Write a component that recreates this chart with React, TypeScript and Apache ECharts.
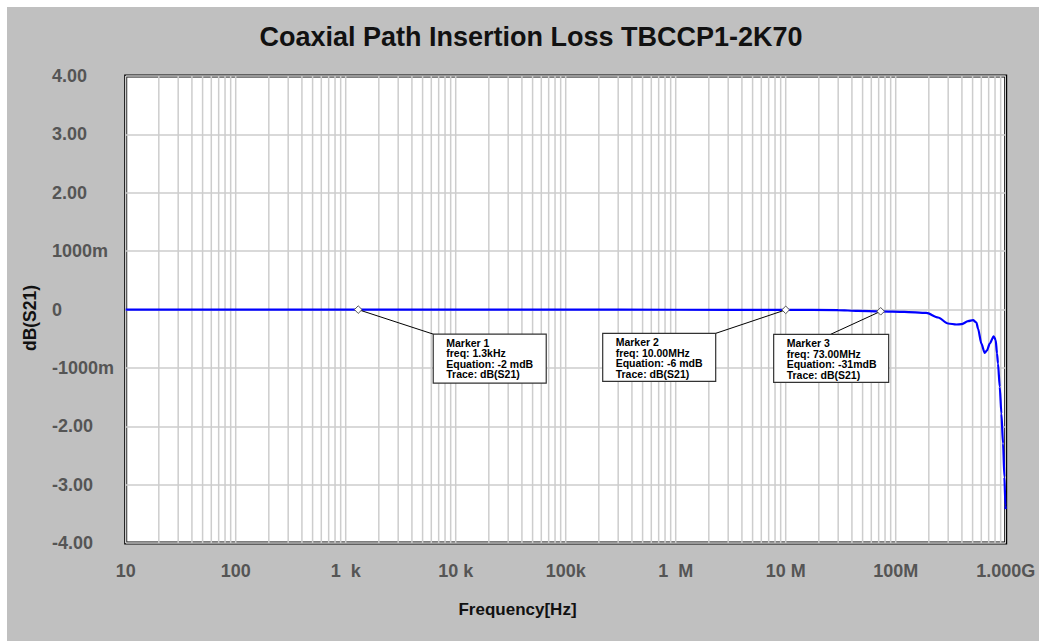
import React, { useEffect, useRef } from 'react';
import * as echarts from 'echarts';

const TITLE = 'Coaxial Path Insertion Loss TBCCP1-2K70';
const X_NAME = 'Frequency[Hz]';
const Y_NAME = 'dB(S21)';

const xTickValues = [10, 100, 1e3, 1e4, 1e5, 1e6, 1e7, 1e8, 1e9];
const xTickLabels = ['10', '100', '1  k', '10 k', '100k', '1  M', '10 M', '100M', '1.000G'];
const yTickValues = [4, 3, 2, 1, 0, -1, -2, -3, -4];
const yTickLabels = ['4.00', '3.00', '2.00', '1000m', '0', '-1000m', '-2.00', '-3.00', '-4.00'];
const gridMultipliers = [1, 2, 3, 4, 5, 6, 7, 8, 9];

const freqHz = [
  10, 1300, 1e5, 1e6, 1e7, 3e7, 4.5e7, 7.3e7, 1.2e8, 1.9e8, 2.43e8, 2.99e8, 3.56e8, 3.96e8,
  4.55e8, 5.05e8, 5.42e8, 5.6e8, 6.01e8, 6.44e8, 6.76e8, 7.16e8, 7.78e8, 8.11e8, 8.34e8,
  8.51e8, 8.83e8, 9.14e8, 9.46e8, 9.73e8, 9.94e8, 1e9,
];
const s21dB = [
  -0.001, -0.002, -0.003, -0.004, -0.006, -0.01, -0.025, -0.031, -0.04, -0.058, -0.137, -0.24,
  -0.257, -0.252, -0.2, -0.183, -0.223, -0.326, -0.583, -0.743, -0.7, -0.583, -0.458, -0.526,
  -0.754, -0.926, -1.327, -1.783, -2.297, -2.87, -3.355, -3.42,
];

const markerNames = ['Marker 1', 'Marker 2', 'Marker 3'];
const markerFreqHz = [1.3e3, 10e6, 73e6];
const markerDB = [-0.002, -0.006, -0.031];
const markerFreqText = ['1.3kHz', '10.00MHz', '73.00MHz'];
const markerEqText = ['-2 mdB', '-6 mdB', '-31mdB'];
const markerTraceText = ['dB(S21)', 'dB(S21)', 'dB(S21)'];

// annotation box layout relative to the marker's pixel position
const boxLayout = [
  { dx: 75, dy: 24.5, w: 113, h: 49, ax: 0 },
  { dx: -183, dy: 23.5, w: 113, h: 48, ax: 113 },
  { dx: -107, dy: 23, w: 115, h: 48, ax: 57 },
];

export default function App() {
  const ref = useRef<HTMLDivElement>(null);

  useEffect(() => {
    document.body.style.margin = '0';
    if (!ref.current) return;
    const chart = echarts.init(ref.current, undefined, { renderer: 'svg' });

    const gridFreqs: number[] = [];
    xTickValues.slice(0, -1).forEach((d) => gridMultipliers.forEach((m) => gridFreqs.push(d * m)));
    gridFreqs.push(xTickValues[xTickValues.length - 1]);

    const labelFont = { fontFamily: 'Arial', fontWeight: 'bold' as const, fontSize: 18, color: '#555' };

    chart.setOption({
      animation: false,
      backgroundColor: '#c0c0c0',
      grid: {
        left: 118.7,
        right: 33.3,
        top: 69,
        bottom: 98,
        show: true,
        backgroundColor: '#ffffff',
        borderColor: '#000',
        borderWidth: 3,
      },
      xAxis: {
        type: 'log',
        logBase: 10,
        min: 10,
        max: 1e9,
        splitNumber: 8,
        axisLine: { show: false },
        axisTick: { show: false },
        splitLine: { show: false },
        axisLabel: {
          ...labelFont,
          margin: 19,
          formatter: (v: number) => {
            const idx = Math.round(Math.log10(v)) - 1;
            return xTickLabels[idx] ?? '';
          },
        },
      },
      yAxis: {
        type: 'value',
        min: -4,
        max: 4,
        interval: 1,
        axisLine: { show: false },
        axisTick: { show: false },
        splitLine: { show: true, lineStyle: { color: '#cdcdcd', width: 1.5 } },
        axisLabel: {
          ...labelFont,
          align: 'left',
          margin: 73.7,
          padding: [5, 0, 0, 0],
          formatter: (v: number) => {
            const idx = yTickValues.findIndex((t) => Math.abs(t - v) < 1e-6);
            return idx >= 0 ? yTickLabels[idx] : '';
          },
        },
      },
      graphic: [
        {
          type: 'text',
          x: 524,
          y: 30,
          style: {
            text: TITLE,
            font: 'bold 27px Arial',
            fill: '#111',
            align: 'center',
            verticalAlign: 'middle',
            textAlign: 'center',
            textVerticalAlign: 'middle',
          },
        },
        {
          type: 'text',
          x: 510.5,
          y: 602,
          style: {
            text: X_NAME,
            font: 'bold 17px Arial',
            fill: '#111',
            align: 'center',
            verticalAlign: 'middle',
            textAlign: 'center',
            textVerticalAlign: 'middle',
          },
        },
        {
          type: 'text',
          x: 23,
          y: 311,
          rotation: Math.PI / 2,
          style: {
            text: Y_NAME,
            font: 'bold 17.5px Arial',
            fill: '#111',
            align: 'center',
            verticalAlign: 'middle',
            textAlign: 'center',
            textVerticalAlign: 'middle',
          },
        },
      ],
      series: [
        {
          type: 'custom',
          name: 'xgrid',
          z: 1,
          silent: true,
          clip: true,
          data: gridFreqs.map((f) => [f, 0]),
          encode: { x: 0, y: 1 },
          renderItem: (params: any, api: any) => {
            const f = api.value(0);
            const p1 = api.coord([f, 4]);
            const p2 = api.coord([f, -4]);
            return {
              type: 'line',
              shape: { x1: p1[0], y1: p1[1], x2: p2[0], y2: p2[1] },
              style: { stroke: '#cdcdcd', lineWidth: 1.5 },
            };
          },
        },
        {
          type: 'line',
          name: 'dB(S21)',
          z: 3,
          data: freqHz.map((f, i) => [f, s21dB[i]]),
          showSymbol: false,
          smooth: 0.25,
          smoothMonotone: 'x',
          lineStyle: { color: '#0000ff', width: 2.2 },
          clip: true,
        },
        {
          type: 'custom',
          name: 'markers',
          z: 4,
          silent: true,
          clip: false,
          data: markerFreqHz.map((f, i) => [f, markerDB[i]]),
          encode: { x: 0, y: 1 },
          renderItem: (params: any, api: any) => {
            const i = params.dataIndex;
            const p = api.coord([api.value(0), api.value(1)]);
            const L = boxLayout[i];
            const bx = p[0] + L.dx;
            const by = p[1] + L.dy;
            const lines = [
              markerNames[i],
              'freq: ' + markerFreqText[i],
              'Equation: ' + markerEqText[i],
              'Trace: ' + markerTraceText[i],
            ];
            const texts = lines.map((t, k) => ({
              type: 'text',
              style: {
                text: t,
                x: bx + 13,
                y: by + 8.7 + k * 10.5,
                font: 'bold 10.5px Arial',
                fill: '#000',
                verticalAlign: 'middle',
                textVerticalAlign: 'middle',
              },
            }));
            const d = 3.8;
            return {
              type: 'group',
              children: [
                {
                  type: 'line',
                  shape: { x1: p[0], y1: p[1], x2: bx + L.ax, y2: by },
                  style: { stroke: '#000', lineWidth: 1 },
                },
                {
                  type: 'rect',
                  shape: { x: bx, y: by, width: L.w, height: L.h },
                  style: { fill: '#fff', stroke: '#333', lineWidth: 1.2 },
                },
                ...texts,
                {
                  type: 'polygon',
                  shape: {
                    points: [
                      [p[0], p[1] - d],
                      [p[0] + d, p[1]],
                      [p[0], p[1] + d],
                      [p[0] - d, p[1]],
                    ],
                  },
                  style: { fill: '#fff', stroke: '#555', lineWidth: 1 },
                },
              ],
            };
          },
        },
      ],
    });

    return () => chart.dispose();
  }, []);

  return (
    <div style={{ position: 'relative', width: 1039, height: 641, background: '#fff' }}>
      <div ref={ref} style={{ position: 'absolute', left: 7, top: 7, width: 1032, height: 634 }} />
    </div>
  );
}
